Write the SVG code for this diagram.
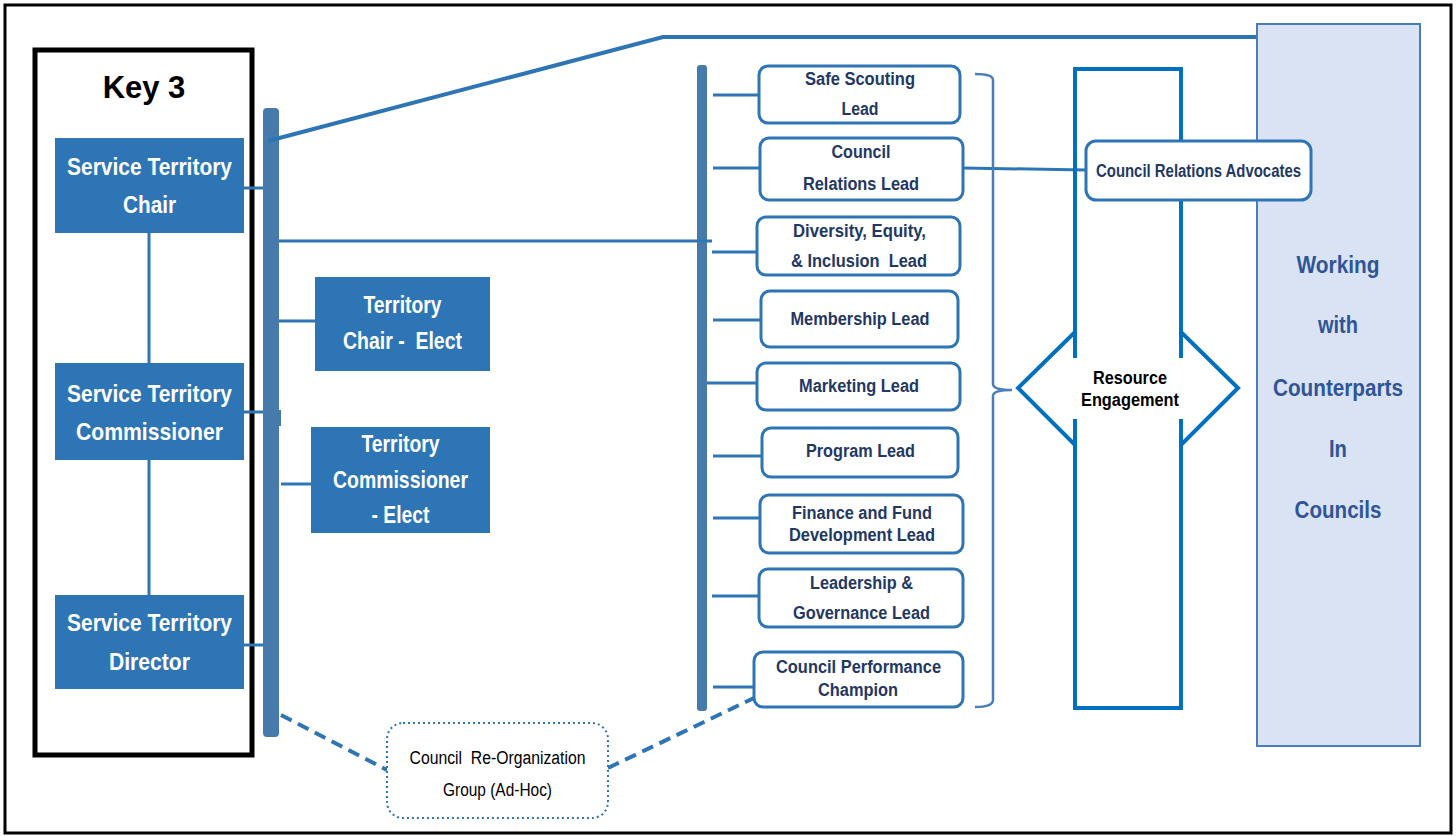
<svg xmlns="http://www.w3.org/2000/svg" width="1456" height="836" viewBox="0 0 1456 836">
  <style>
    text { white-space: pre; }
    .frame { fill: #ffffff; stroke: #000000; stroke-width: 3; }
    .key { fill: none; stroke: #000000; stroke-width: 5; }
    .solid { fill: #2E75B6; }
    .bar { fill: #467AAA; }
    .wt { font-family: "Liberation Sans", Arial, sans-serif; font-weight: bold; font-size: 24px; fill: #ffffff; text-anchor: middle; }
    .lead { fill: #ffffff; stroke: #2E75B6; stroke-width: 3; }
    .lt { font-family: "Liberation Sans", Arial, sans-serif; font-weight: bold; font-size: 18px; fill: #1F3864; text-anchor: middle; }
    .ln { fill: none; stroke: #2E75B6; stroke-width: 3; }
    .dash { fill: none; stroke: #2E75B6; stroke-width: 4; stroke-dasharray: 12 7; }
    .wk { font-family: "Liberation Sans", Arial, sans-serif; font-weight: bold; font-size: 23px; fill: #2F5597; text-anchor: middle; }
  </style>

  <rect class="frame" x="5" y="5" width="1446" height="828"/>

  <!-- Key 3 frame -->
  <g id="key3">
    <rect class="key" x="35" y="50" width="217" height="705"/>
    <text x="144" y="98" font-family="Liberation Sans, Arial, sans-serif" font-weight="bold" font-size="31" text-anchor="middle" fill="#000">Key 3</text>
  </g>

  <!-- spines -->
  <g id="spine-left">
    <rect class="bar" x="263" y="108" width="16" height="629" rx="4"/>
    <rect class="bar" x="278" y="410" width="3" height="16"/>
  </g>
  <g id="spine-leads">
    <rect class="bar" x="697" y="65" width="10" height="646" rx="3"/>
  </g>

  <!-- connectors -->
  <g id="connectors">
    <!-- Key 3 chain -->
    <line class="ln" x1="149" y1="233" x2="149" y2="363"/>
    <line class="ln" x1="149" y1="460" x2="149" y2="595"/>
    <!-- stubs to left bar -->
    <line class="ln" x1="244" y1="188" x2="263" y2="188"/>
    <line class="ln" x1="244" y1="412" x2="263" y2="412"/>
    <line class="ln" x1="244" y1="645" x2="263" y2="645"/>
    <line class="ln" x1="279" y1="321" x2="315" y2="321"/>
    <line class="ln" x1="281" y1="484" x2="311" y2="484"/>
    <!-- top sweep to counterparts panel -->
    <polyline fill="none" stroke="#2E75B6" stroke-width="4" points="268,141 663,37 1257,37"/>
    <!-- left bar to lead bar -->
    <line class="ln" x1="279" y1="241" x2="712" y2="241"/>
    <!-- lead stubs -->
    <line class="ln" x1="713" y1="95" x2="759" y2="95"/>
    <line class="ln" x1="713" y1="168" x2="760" y2="168"/>
    <line class="ln" x1="712" y1="252" x2="757" y2="252"/>
    <line class="ln" x1="713" y1="320" x2="761" y2="320"/>
    <line class="ln" x1="707" y1="383" x2="757" y2="383"/>
    <line class="ln" x1="713" y1="456" x2="762" y2="456"/>
    <line class="ln" x1="713" y1="518" x2="760" y2="518"/>
    <line class="ln" x1="712" y1="596" x2="759" y2="596"/>
    <line class="ln" x1="713" y1="687" x2="754" y2="687"/>
    <!-- relations lead to advocates -->
    <line class="ln" x1="963" y1="168" x2="1086" y2="170"/>
    <!-- bracket around the leads -->
    <path fill="none" stroke="#4A7EBB" stroke-width="2.5" d="M975,74 Q993,74 993,80 L993,384 Q993,390 1012,390 Q993,390 993,396 L993,700 Q993,707 975,707"/>
    <!-- ad-hoc dashed links -->
    <line class="dash" x1="281" y1="715" x2="387" y2="770"/>
    <line class="dash" x1="608" y1="768" x2="754" y2="698"/>
  </g>

  <g id="chair">
    <rect class="solid" x="55" y="138" width="189" height="95"/>
    <text class="wt" x="149.5" y="175" textLength="165" lengthAdjust="spacingAndGlyphs">Service Territory</text>
    <text class="wt" x="149.5" y="213" textLength="53" lengthAdjust="spacingAndGlyphs">Chair</text>
  </g>
  <g id="commissioner">
    <rect class="solid" x="55" y="363" width="189" height="97"/>
    <text class="wt" x="149.5" y="402" textLength="165" lengthAdjust="spacingAndGlyphs">Service Territory</text>
    <text class="wt" x="149.5" y="440" textLength="147" lengthAdjust="spacingAndGlyphs">Commissioner</text>
  </g>
  <g id="director">
    <rect class="solid" x="55" y="595" width="189" height="94"/>
    <text class="wt" x="149.5" y="631" textLength="165" lengthAdjust="spacingAndGlyphs">Service Territory</text>
    <text class="wt" x="149.5" y="670" textLength="81" lengthAdjust="spacingAndGlyphs">Director</text>
  </g>

  <g id="chair-elect">
    <rect class="solid" x="315" y="277" width="175" height="94"/>
    <text class="wt" x="402.5" y="313" textLength="78" lengthAdjust="spacingAndGlyphs">Territory</text>
    <text class="wt" x="402.5" y="349" textLength="119" lengthAdjust="spacingAndGlyphs">Chair -  Elect</text>
  </g>
  <g id="commissioner-elect">
    <rect class="solid" x="311" y="427" width="179" height="106"/>
    <text class="wt" x="400.5" y="452" textLength="78" lengthAdjust="spacingAndGlyphs">Territory</text>
    <text class="wt" x="400.5" y="488" textLength="135" lengthAdjust="spacingAndGlyphs">Commissioner</text>
    <text class="wt" x="400.5" y="523" textLength="58" lengthAdjust="spacingAndGlyphs">- Elect</text>
  </g>

  <g id="safe-scouting">
    <rect class="lead" x="759" y="66" width="201" height="57" rx="9"/>
    <text class="lt" x="860" y="85" textLength="110" lengthAdjust="spacingAndGlyphs">Safe Scouting</text>
    <text class="lt" x="860" y="115" textLength="37" lengthAdjust="spacingAndGlyphs">Lead</text>
  </g>
  <g id="council-relations">
    <rect class="lead" x="760" y="138" width="203" height="62" rx="9"/>
    <text class="lt" x="861" y="158" textLength="59" lengthAdjust="spacingAndGlyphs">Council</text>
    <text class="lt" x="861" y="190" textLength="116" lengthAdjust="spacingAndGlyphs">Relations Lead</text>
  </g>
  <g id="dei">
    <rect class="lead" x="757" y="217" width="203" height="58" rx="9"/>
    <text class="lt" x="859.5" y="237" textLength="133" lengthAdjust="spacingAndGlyphs">Diversity, Equity,</text>
    <text class="lt" x="859" y="267" textLength="136" lengthAdjust="spacingAndGlyphs">&amp; Inclusion  Lead</text>
  </g>
  <g id="membership">
    <rect class="lead" x="761" y="291" width="197" height="56" rx="9"/>
    <text class="lt" x="860" y="325" textLength="139" lengthAdjust="spacingAndGlyphs">Membership Lead</text>
  </g>
  <g id="marketing">
    <rect class="lead" x="757" y="363" width="203" height="47" rx="9"/>
    <text class="lt" x="859" y="392" textLength="120" lengthAdjust="spacingAndGlyphs">Marketing Lead</text>
  </g>
  <g id="program">
    <rect class="lead" x="762" y="428" width="196" height="49" rx="9"/>
    <text class="lt" x="860.5" y="457" textLength="109" lengthAdjust="spacingAndGlyphs">Program Lead</text>
  </g>
  <g id="finance">
    <rect class="lead" x="760" y="495" width="203" height="58" rx="9"/>
    <text class="lt" x="862" y="519" textLength="140" lengthAdjust="spacingAndGlyphs">Finance and Fund</text>
    <text class="lt" x="862" y="541" textLength="146" lengthAdjust="spacingAndGlyphs">Development Lead</text>
  </g>
  <g id="leadership">
    <rect class="lead" x="759" y="569" width="204" height="58" rx="9"/>
    <text class="lt" x="861.5" y="589" textLength="103" lengthAdjust="spacingAndGlyphs">Leadership &amp;</text>
    <text class="lt" x="861.5" y="619" textLength="137" lengthAdjust="spacingAndGlyphs">Governance Lead</text>
  </g>
  <g id="performance">
    <rect class="lead" x="754" y="652" width="209" height="55" rx="9"/>
    <text class="lt" x="858.5" y="673" textLength="165" lengthAdjust="spacingAndGlyphs">Council Performance</text>
    <text class="lt" x="858" y="696" textLength="80" lengthAdjust="spacingAndGlyphs">Champion</text>
  </g>

  <!-- counterparts panel -->
  <g id="counterparts">
    <rect x="1257" y="24" width="163" height="722" fill="#DAE3F3" stroke="#4A7EBB" stroke-width="2"/>
    <text class="wk" x="1338" y="273" textLength="83" lengthAdjust="spacingAndGlyphs">Working</text>
    <text class="wk" x="1338" y="333" textLength="40" lengthAdjust="spacingAndGlyphs">with</text>
    <text class="wk" x="1338" y="396" textLength="130" lengthAdjust="spacingAndGlyphs">Counterparts</text>
    <text class="wk" x="1338" y="457" textLength="18" lengthAdjust="spacingAndGlyphs">In</text>
    <text class="wk" x="1338" y="518" textLength="87" lengthAdjust="spacingAndGlyphs">Councils</text>
  </g>

  <!-- resource engagement callout -->
  <g id="resource-engagement">
    <path fill="none" stroke="#0070C0" stroke-width="4" stroke-linejoin="miter" d="M1075,69 L1181,69 L1181,358 L1181,332 L1238,388 L1181,445 L1181,419 L1181,708 L1075,708 L1075,419 L1075,445 L1018,388 L1075,332 L1075,358 Z"/>
    <text x="1130" y="384" font-family="Liberation Sans, Arial, sans-serif" font-weight="bold" font-size="18" text-anchor="middle" fill="#000" textLength="74" lengthAdjust="spacingAndGlyphs">Resource</text>
    <text x="1130" y="406" font-family="Liberation Sans, Arial, sans-serif" font-weight="bold" font-size="18" text-anchor="middle" fill="#000" textLength="98" lengthAdjust="spacingAndGlyphs">Engagement</text>
  </g>

  <g id="advocates">
    <rect class="lead" x="1086" y="141" width="225" height="59" rx="10"/>
    <text class="lt" x="1198.5" y="177" font-size="17" textLength="205" lengthAdjust="spacingAndGlyphs">Council Relations Advocates</text>
  </g>

  <g id="reorg-group">
    <rect x="387" y="723" width="221" height="95" rx="16" fill="#ffffff" stroke="#2E75B6" stroke-width="2" stroke-dasharray="2 3"/>
    <text x="497.5" y="764" font-family="Liberation Sans, Arial, sans-serif" font-size="18" text-anchor="middle" fill="#000" textLength="176" lengthAdjust="spacingAndGlyphs">Council  Re-Organization</text>
    <text x="497.5" y="796" font-family="Liberation Sans, Arial, sans-serif" font-size="18" text-anchor="middle" fill="#000" textLength="109" lengthAdjust="spacingAndGlyphs">Group (Ad-Hoc)</text>
  </g>
</svg>
